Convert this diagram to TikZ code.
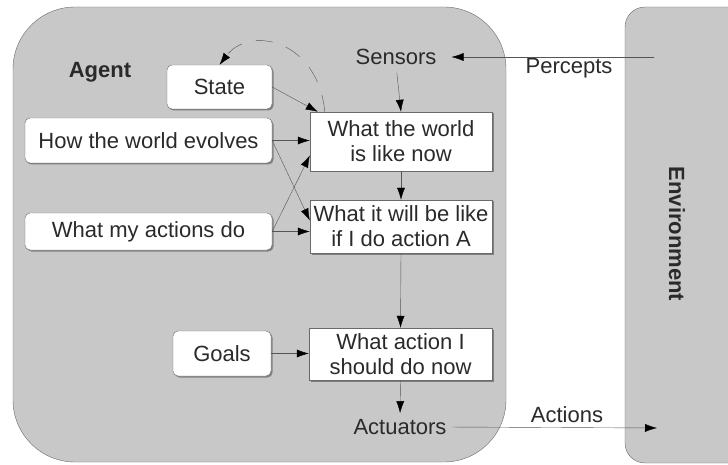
\documentclass[tikz,border=0pt]{standalone}
\usepackage{fontspec}
\setmainfont{Liberation Sans}
\usetikzlibrary{arrows.meta,shadows}

\definecolor{panel}{HTML}{C8C8C8}
\definecolor{rim}{HTML}{6A6A6A}
\definecolor{ink}{HTML}{2A2A2A}
\definecolor{wire}{HTML}{555555}

\begin{document}
\begin{tikzpicture}[x=1pt, y=-1pt,
  every node/.style={font=\fontsize{22}{25}\selectfont, text=ink},
  box/.style={draw=rim, fill=white, thin, align=center, inner sep=2pt,
    drop shadow={shadow xshift=1.5pt, shadow yshift=-1.5pt, fill=black!50, opacity=1}},
  rbox/.style={box, rounded corners=5pt},
  arr/.style={draw=wire, thin, -{Latex[length=12pt, width=8pt, color=black]}},
  lbl/.style={inner sep=0pt}]
\useasboundingbox (0,0) rectangle (728,465);
\clip (0,0) rectangle (728,465);

% Agent and environment
\path[draw=rim, fill=panel, thin, rounded corners=62pt] (13,7) -- (506,7) -- (506,462) -- (13,462) -- cycle;
\path[draw=rim, fill=panel, thin, rounded corners=20pt] (625,7) -- (760,7) -- (760,463) -- (625,463) -- cycle;
\node[lbl, font=\fontsize{22}{25}\selectfont\bfseries] (agent) at (100,72) {Agent};
\node[lbl, font=\fontsize{22}{25}\selectfont\bfseries, rotate=-90] (env) at (677,234) {Environment};

% Boxes
\node[rbox, minimum width=105pt, minimum height=44pt] (state) at (219.5,87) {State};
\node[rbox, minimum width=247pt, minimum height=45pt] (evolves) at (148.5,140.5) {How the world evolves};
\node[rbox, minimum width=247pt, minimum height=37pt] (myact) at (148.5,231.5) {What my actions do};
\node[rbox, minimum width=98pt, minimum height=45pt] (goals) at (222,353.5) {Goals};
\node[box, minimum width=182pt, minimum height=59pt] (world) at (401,141.5) {What the world\\is like now};
\node[box, minimum width=182pt, minimum height=53pt] (future) at (401,226.5) {What it will be like\\if I do action A};
\node[box, minimum width=183pt, minimum height=52pt] (decide) at (400.5,354) {What action I\\should do now};

% Sensors, actuators
\node[lbl] (sensors) at (396,57) {Sensors};
\node[lbl] (actuators) at (400,427) {Actuators};
\node[lbl] (percepts) at (569,68) {Percepts};
\node[lbl] (actions) at (567,415) {Actions};
\coordinate (envin) at (654,57);
\coordinate (envout) at (657,428);

% Arrows
\draw[arr, shorten >=15pt] (envin) -- (sensors.east);
\draw[arr, shorten <=8pt] (sensors.south) -- (world.north);
\draw[arr] (world.south) -- (future.north);
\draw[arr] (future.south) -- (decide.north);
\draw[arr, shorten >=6pt] (decide.south) -- (actuators.north);
\draw[arr, shorten <=6pt] (actuators.east) -- (envout);
\draw[arr] (goals.east) -- (decide.west |- goals.east);
\draw[arr] (state.east) -- ([xshift=8pt]world.north west);
\draw[arr] (evolves.east) -- (world.west |- evolves.east);
\draw[arr] (evolves.east) -- ([yshift=6pt]future.west);
\draw[arr] (myact.east) -- ([yshift=-14pt]world.west);
\draw[arr] (myact.east) -- (future.west |- myact.east);
\draw[arr, dash pattern=on 17pt off 14pt] ([xshift=15pt]world.north west)
  .. controls (318,40) and (250,25) .. (state.north);
\end{tikzpicture}
\end{document}
